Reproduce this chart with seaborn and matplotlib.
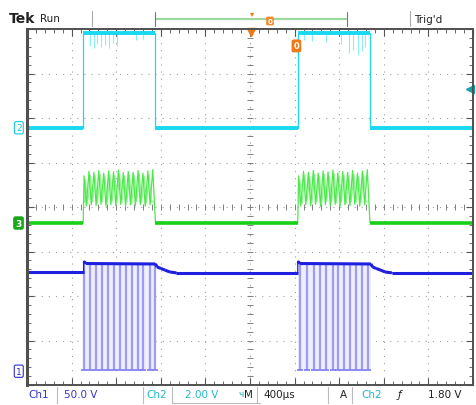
import numpy as np
import pandas as pd
import matplotlib
matplotlib.use("Agg")
import matplotlib.pyplot as plt
import seaborn as sns

# screen units: 10 x 8 divisions, 400 us/div
# Ch2 (cyan) square gate
ch2_t = [0, 1.26, 1.26, 2.88, 2.88, 6.07, 6.07, 7.69, 7.69, 10]
ch2_v = [1.78, 1.78, 3.91, 3.91, 1.78, 1.78, 3.91, 3.91, 1.78, 1.78]
# little dips on the high level of ch2
ch2_spike_t = [1.42, 1.50, 1.58, 1.66, 1.74, 1.83, 1.92, 2.02, 2.45, 2.60,
               6.22, 6.40, 6.70, 7.05, 7.22, 7.32, 7.42, 7.50, 7.58]
ch2_spike_v = [3.62, 3.58, 3.66, 3.60, 3.64, 3.57, 3.68, 3.62, 3.75, 3.78,
               3.75, 3.72, 3.70, 3.66, 3.45, 3.52, 3.42, 3.50, 3.60]

# Ch3 (green) baseline and burst shape (offsets from burst start)
ch3_base = -0.36
burst_starts = [1.26, 6.07]
burst_ends = [2.88, 7.69]
ch3_burst_dt = [0.00, 0.02, 0.07, 0.13, 0.18, 0.24, 0.29, 0.35, 0.40, 0.46,
                0.51, 0.57, 0.62, 0.68, 0.73, 0.79, 0.84, 0.90, 0.95, 1.01,
                1.06, 1.12, 1.17, 1.23, 1.28, 1.34, 1.39, 1.45, 1.50, 1.56,
                1.60, 1.62]
ch3_burst_v = [-0.36, 0.70, 0.02, 0.80, 0.05, 0.78, 0.03, 0.82, 0.06, 0.76,
               0.02, 0.81, 0.05, 0.79, 0.03, 0.83, 0.06, 0.77, 0.02, 0.80,
               0.05, 0.78, 0.03, 0.82, 0.06, 0.76, 0.02, 0.81, 0.05, 0.84,
               0.04, -0.36]
# second, interleaved sweep of the same burst
ch3_burst_dt2 = [0.03, 0.05, 0.10, 0.16, 0.21, 0.27, 0.32, 0.38, 0.43, 0.49,
                 0.54, 0.60, 0.65, 0.71, 0.76, 0.82, 0.87, 0.93, 0.98, 1.04,
                 1.09, 1.15, 1.20, 1.26, 1.31, 1.37, 1.42, 1.48, 1.53, 1.58]
ch3_burst_v2 = [0.10, 0.62, 0.08, 0.72, 0.12, 0.70, 0.09, 0.74, 0.11, 0.69,
                0.08, 0.73, 0.12, 0.71, 0.10, 0.75, 0.09, 0.70, 0.11, 0.72,
                0.08, 0.71, 0.12, 0.74, 0.10, 0.69, 0.09, 0.73, 0.11, 0.12]

# Ch1 (blue) level with burst step and sag afterwards
ch1_t = [0, 1.27, 1.27, 1.32, 2.88, 2.92, 3.00, 3.10, 3.20, 3.35,
         6.07, 6.07, 6.12, 7.71, 7.75, 7.83, 7.93, 8.03, 8.18, 10]
ch1_v = [-1.47, -1.47, -1.22, -1.27, -1.28, -1.35, -1.38, -1.42, -1.46, -1.48,
         -1.48, -1.22, -1.27, -1.28, -1.35, -1.38, -1.42, -1.46, -1.48, -1.48]
ch1_pulse_t = [1.27, 1.42, 1.55, 1.68, 1.81, 1.94, 2.09, 2.22, 2.35, 2.48, 2.61, 2.75, 2.88,
               6.13, 6.28, 6.43, 6.57, 6.70, 6.85, 6.97, 7.11, 7.24, 7.37, 7.52, 7.65]
ch1_pulse_low = -3.66
ch1_pulse_high = -1.27
ch1_burst_on = [1.27, 6.07]
ch1_burst_off = [2.88, 7.71]


def draw_trace(ax, t, v, color, lw_flat, lw_edge):
    # thin line for the whole trace, thick on the flat (non vertical) parts
    sns.lineplot(x=t, y=v, estimator=None, sort=False, color=color, lw=lw_edge, ax=ax)
    for i in range(len(t) - 1):
        if t[i + 1] != t[i]:
            ax.plot([t[i], t[i + 1]], [v[i], v[i + 1]], color=color, lw=lw_flat,
                    solid_capstyle="butt")


sns.set_style("white")
fig = plt.figure(figsize=(4.76, 4.06), dpi=100)
ax = fig.add_axes([27 / 476, 20 / 406, 446 / 476, 356 / 406])
ax.set_xlim(0, 10)
ax.set_ylim(-4, 4)

# graticule
ax.set_xticks(range(0, 11))
ax.set_yticks(range(-4, 5))
ax.set_xticks(np.arange(0, 10.01, 0.2), minor=True)
ax.set_yticks(np.arange(-4, 4.01, 0.2), minor=True)
ax.grid(True, which="major", color="#a0a0a0", linestyle=(0, (1, 5.4)), linewidth=0.8)
ax.tick_params(which="both", direction="in", top=True, right=True, bottom=True, left=True,
               labelbottom=False, labelleft=False, color="#555555")
ax.tick_params(which="major", length=5, width=0.8)
ax.tick_params(which="minor", length=3, width=0.6)
for s in ax.spines.values():
    s.set_color("#505050")
    s.set_linewidth(1.4)
ax.spines["left"].set_linewidth(2.2)
gx = np.arange(0, 10.01, 0.2)
gy = np.arange(-4, 4.01, 0.2)
ax.plot(gx, np.zeros_like(gx), ls="", marker="|", ms=4, color="#808080", mew=0.7)
ax.plot(np.full_like(gy, 5.0), gy, ls="", marker="_", ms=4, color="#808080", mew=0.7)

# Ch1 pulses (light blue)
for a, b in zip(ch1_burst_on, ch1_burst_off):
    ax.fill_between([a, b], ch1_pulse_low, ch1_pulse_high, color="#eeeeff", lw=0)
ax.vlines(ch1_pulse_t, ch1_pulse_low, ch1_pulse_high, color="#9c9cf4", lw=1.6)
ax.plot(ch1_pulse_t, [ch1_pulse_low] * len(ch1_pulse_t), ls="", marker="_", ms=4,
        color="#7c7cf0", mew=1.2)
draw_trace(ax, ch1_t, ch1_v, "#1f1fe0", 2.2, 0.9)

# Ch3 green
for t0, t1 in zip(burst_starts, burst_ends):
    sns.lineplot(x=[t0 + d for d in ch3_burst_dt2], y=ch3_burst_v2, estimator=None,
                 sort=False, color="#8ff28f", lw=0.8, ax=ax)
    sns.lineplot(x=[t0 + d for d in ch3_burst_dt], y=ch3_burst_v, estimator=None,
                 sort=False, color="#4ee84e", lw=0.9, ax=ax)
for a, b in [(0, burst_starts[0]), (burst_ends[0], burst_starts[1]), (burst_ends[1], 10)]:
    ax.plot([a, b], [ch3_base, ch3_base], color="#18d018", lw=2.6, solid_capstyle="butt")

# Ch2 cyan
ax.vlines(ch2_spike_t, ch2_spike_v, 3.91, color="#8eedf7", lw=0.8)
draw_trace(ax, ch2_t, ch2_v, "#19d8f0", 2.8, 0.9)

# markers on the screen
ax.plot([5.03], [3.93], marker="v", color="#f07818", ms=6, clip_on=False)
ax.text(6.04, 3.62, "0", color="white", fontsize=6, fontweight="bold", ha="center", va="center",
        bbox=dict(boxstyle="round,pad=0.15", fc="#f07818", ec="#f07818"))
ax.plot([9.93], [2.65], marker="<", color="#1aa0a8", ms=6, clip_on=False)
ax.text(-0.12, 1.78, "2", color="#19c8e0", fontsize=6.5, ha="right", va="center",
        bbox=dict(boxstyle="round,pad=0.18", fc="white", ec="#19c8e0", lw=0.8))
ax.text(-0.12, ch3_base, "3", color="white", fontsize=6.5, fontweight="bold", ha="right", va="center",
        bbox=dict(boxstyle="round,pad=0.18", fc="#18a818", ec="#18a818", lw=0.8))
ax.text(-0.12, -3.69, "1", color="#3030c8", fontsize=6.5, ha="right", va="center",
        bbox=dict(boxstyle="round,pad=0.18", fc="white", ec="#3030c8", lw=0.8))
ax.set_xlabel("")
ax.set_ylabel("")


# header
def fx(x):
    return x / 476


def fy(y):
    return 1 - y / 406


fig.text(fx(9), fy(19), "Tek", fontsize=10, fontweight="bold", va="center", color="#222222")
fig.text(fx(40), fy(19), "Run", fontsize=7.5, va="center", color="#222222")
fig.add_artist(plt.Line2D([fx(92), fx(92)], [fy(12), fy(27)], color="#aaaaaa", lw=0.8))
fig.add_artist(plt.Line2D([fx(156), fx(346)], [fy(20), fy(20)], color="#9fd89f", lw=1.6))
fig.add_artist(plt.Line2D([fx(155), fx(155)], [fy(13), fy(27)], color="#777777", lw=0.8))
fig.add_artist(plt.Line2D([fx(347), fx(347)], [fy(13), fy(27)], color="#777777", lw=0.8))
fig.text(fx(252), fy(14), "\u25be", color="#f07818", fontsize=6, ha="center", va="center")
fig.text(fx(270), fy(22), "0", color="white", fontsize=5, fontweight="bold", ha="center", va="center",
         bbox=dict(boxstyle="round,pad=0.1", fc="#f08a30", ec="#f08a30"))
fig.add_artist(plt.Line2D([fx(410), fx(410)], [fy(12), fy(27)], color="#aaaaaa", lw=0.8))
fig.text(fx(414), fy(20), "Trig'd", fontsize=7.5, va="center", color="#222222")

# footer
yb = fy(395)
fig.text(fx(28), yb, "Ch1", fontsize=7.5, color="#3434c8", va="center")
fig.add_artist(plt.Line2D([fx(57), fx(57)], [fy(388), fy(404)], color="#bbbbbb", lw=0.8))
fig.text(fx(64), yb, "50.0 V", fontsize=7.5, color="#3434c8", va="center")
fig.add_artist(plt.Line2D([fx(143), fx(143)], [fy(388), fy(404)], color="#bbbbbb", lw=0.8))
fig.text(fx(146), yb, "Ch2", fontsize=7.5, color="#22b8c8", va="center")
fig.add_artist(plt.Line2D([fx(172), fx(172)], [fy(388), fy(404)], color="#bbbbbb", lw=0.8))
fig.add_artist(plt.Line2D([fx(172), fx(260)], [fy(404), fy(404)], color="#bbbbbb", lw=0.8))
fig.text(fx(185), yb, "2.00 V", fontsize=7.5, color="#22b8c8", va="center")
fig.text(fx(238), yb, "\u0447", fontsize=6.5, color="#22b8c8", va="center")
fig.text(fx(244), yb, "M", fontsize=7.5, color="#222222", va="center")
fig.add_artist(plt.Line2D([fx(257), fx(257)], [fy(388), fy(404)], color="#bbbbbb", lw=0.8))
fig.text(fx(263), yb, "400\u00b5s", fontsize=7.5, color="#222222", va="center")
fig.add_artist(plt.Line2D([fx(328), fx(328)], [fy(388), fy(404)], color="#bbbbbb", lw=0.8))
fig.text(fx(340), yb, "A", fontsize=7.5, color="#222222", va="center")
fig.add_artist(plt.Line2D([fx(352), fx(352)], [fy(388), fy(404)], color="#bbbbbb", lw=0.8))
fig.text(fx(361), yb, "Ch2", fontsize=7.5, color="#22b8c8", va="center")
fig.text(fx(398), yb, "\u0192", fontsize=7.5, color="#222222", va="center", style="italic")
fig.text(fx(428), yb, "1.80 V", fontsize=7.5, color="#222222", va="center")

fig.savefig("out.png", dpi=100, facecolor="white")
